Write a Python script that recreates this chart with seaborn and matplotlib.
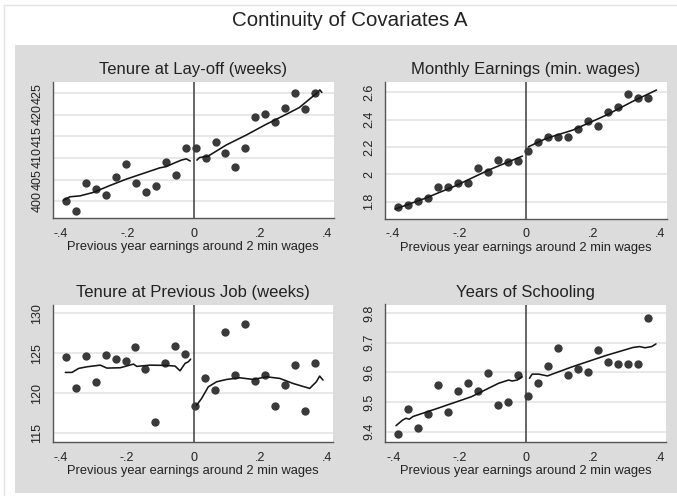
import numpy as np
import pandas as pd
import matplotlib.pyplot as plt
import seaborn as sns
from matplotlib.patches import Rectangle
from matplotlib.lines import Line2D

# bin midpoints (previous year earnings around 2 min wages)
bin_x = [-0.385, -0.355, -0.325, -0.295, -0.265, -0.235, -0.205, -0.175, -0.145,
         -0.115, -0.085, -0.055, -0.025, 0.005, 0.035, 0.065, 0.095, 0.125,
         0.155, 0.185, 0.215, 0.245, 0.275, 0.305, 0.335, 0.365]

# Tenure at lay-off (weeks)
tenure_layoff = [400.0, 397.8, 404.1, 402.8, 401.3, 405.7, 408.7, 404.3, 402.0,
                 403.6, 409.1, 406.0, 412.3, 412.2, 409.9, 413.7, 411.1, 407.9,
                 412.2, 419.6, 420.1, 418.3, 421.7, 425.0, 421.3, 425.0]
layoff_fit_left_x = [-0.393, -0.373, -0.343, -0.303, -0.253, -0.203, -0.153, -0.103,
                     -0.083, -0.063, -0.038, -0.023, -0.016, -0.011]
layoff_fit_left_y = [400.2, 401.0, 401.2, 402.0, 403.6, 405.1, 406.4, 407.7,
                     408.0, 408.7, 409.5, 409.8, 409.5, 409.3]
layoff_fit_right_x = [0.009, 0.017, 0.042, 0.057, 0.097, 0.157, 0.217, 0.277,
                      0.317, 0.347, 0.372, 0.379, 0.385]
layoff_fit_right_y = [409.5, 410.1, 410.4, 411.1, 413.0, 415.3, 417.8, 420.1,
                      421.7, 423.6, 425.2, 425.8, 425.2]

# Monthly earnings (min. wages)
earnings = [1.761, 1.773, 1.802, 1.829, 1.910, 1.910, 1.937, 1.939, 2.049,
            2.017, 2.107, 2.090, 2.100, 2.171, 2.239, 2.276, 2.271, 2.271,
            2.329, 2.388, 2.354, 2.459, 2.490, 2.588, 2.556, 2.556]
earn_fit_left_x = [-0.394, -0.305, -0.214, -0.113, -0.012]
earn_fit_left_y = [1.746, 1.824, 1.915, 2.032, 2.134]
earn_fit_right_x = [0.006, 0.059, 0.139, 0.240, 0.321, 0.390]
earn_fit_right_y = [2.202, 2.263, 2.324, 2.434, 2.537, 2.617]

# Tenure at previous job (weeks)
tenure_prev = [124.58, 120.63, 124.63, 121.46, 124.75, 124.25, 124.08, 125.83, 123.0,
               116.46, 123.79, 125.88, 124.96, 118.38, 121.96, 120.42, 127.67, 122.33,
               128.71, 121.58, 122.33, 118.46, 121.08, 123.5, 117.75, 123.79]
prev_fit_left_x = [-0.386, -0.366, -0.346, -0.321, -0.281, -0.261, -0.221, -0.181,
                   -0.171, -0.131, -0.081, -0.056, -0.041, -0.026, -0.016, -0.009]
prev_fit_left_y = [122.63, 122.63, 123.13, 123.33, 123.54, 123.17, 123.21, 123.67,
                   123.38, 123.54, 123.50, 123.42, 122.83, 123.75, 123.96, 124.29]
prev_fit_right_x = [0.009, 0.024, 0.044, 0.069, 0.099, 0.139, 0.179, 0.219, 0.259,
                    0.299, 0.349, 0.369, 0.379, 0.389]
prev_fit_right_y = [118.54, 119.38, 120.83, 121.46, 121.75, 121.96, 121.75, 122.08,
                    121.88, 121.25, 120.63, 121.46, 122.17, 121.67]

# Years of schooling
schooling = [9.393, 9.475, 9.412, 9.460, 9.557, 9.465, 9.536, 9.564, 9.536,
             9.597, 9.489, 9.500, 9.591, 9.519, 9.565, 9.620, 9.681, 9.591,
             9.612, 9.601, 9.676, 9.634, 9.628, 9.629, 9.627, 9.782]
school_fit_left_x = [-0.392, -0.372, -0.362, -0.352, -0.341, -0.266, -0.165, -0.084,
                     -0.054, -0.043, -0.028, -0.013]
school_fit_left_y = [9.420, 9.439, 9.445, 9.442, 9.451, 9.479, 9.518, 9.563,
                     9.574, 9.571, 9.574, 9.585]
school_fit_right_x = [0.009, 0.017, 0.037, 0.063, 0.138, 0.239, 0.320, 0.340,
                      0.356, 0.376, 0.389]
school_fit_right_y = [9.580, 9.594, 9.594, 9.588, 9.619, 9.657, 9.684, 9.687,
                      9.683, 9.687, 9.696]

x_ticks = [-0.4, -0.2, 0, 0.2, 0.4]
x_tick_labels = ["-.4", "-.2", "0", ".2", ".4"]
x_title = "Previous year earnings around 2 min wages"

sns.set_style("white")
plt.rcParams["font.family"] = ["Liberation Sans", "DejaVu Sans"]

W, H = 677, 496
fig = plt.figure(figsize=(W / 100, H / 100), dpi=100)
fig.patch.set_facecolor("white")

# stata-like graph region
fig.patches.append(Rectangle((15 / W, 1 - 493 / H), 1 - 15 / W, (493 - 45) / H,
                             transform=fig.transFigure, facecolor="#dcdcdc",
                             edgecolor="none", zorder=-5))
fig.lines.append(Line2D([4 / W, 1], [1 - 5 / H, 1 - 5 / H], transform=fig.transFigure,
                        color="#e4e4e4", lw=1))
fig.lines.append(Line2D([4 / W, 4 / W], [0, 1 - 5 / H], transform=fig.transFigure,
                        color="#e4e4e4", lw=1))

fig.text(350 / W, 1 - 26 / H, "Continuity of Covariates A", ha="center",
         va="baseline", fontsize=14.8, color="#222222")


def box(l, t, r, b):
    return [l / W, 1 - b / H, (r - l) / W, (b - t) / H]


panels = [
    ("Tenure at Lay-off (weeks)", box(53, 81.7, 333.5, 218.3), tenure_layoff,
     (layoff_fit_left_x, layoff_fit_left_y), (layoff_fit_right_x, layoff_fit_right_y),
     [400, 405, 410, 415, 420, 425], (396.0, 427.7)),
    ("Monthly Earnings (min. wages)", box(385, 81.7, 666.5, 218.7), earnings,
     (earn_fit_left_x, earn_fit_left_y), (earn_fit_right_x, earn_fit_right_y),
     [1.8, 2.0, 2.2, 2.4, 2.6], (1.676, 2.678)),
    ("Tenure at Previous Job (weeks)", box(52.7, 305, 333.3, 442.3), tenure_prev,
     (prev_fit_left_x, prev_fit_left_y), (prev_fit_right_x, prev_fit_right_y),
     [115, 120, 125, 130], (113.9, 131.05)),
    ("Years of Schooling", box(385.3, 304.5, 666.3, 442), schooling,
     (school_fit_left_x, school_fit_left_y), (school_fit_right_x, school_fit_right_y),
     [9.4, 9.5, 9.6, 9.7, 9.8], (9.365, 9.829)),
]

ylabel_fmt = {0: "{:.0f}", 1: "{:g}", 2: "{:.0f}", 3: "{:.1f}"}

for k, (title, pos, yvals, fit_l, fit_r, yticks, ylim) in enumerate(panels):
    ax = fig.add_axes(pos)
    ax.set_facecolor("white")
    for yt in yticks:
        ax.axhline(yt, color="#e2e2e2", lw=1.1, zorder=0)
    ax.axvline(0, color="#5a5a5a", lw=1.3, zorder=1)

    df = pd.DataFrame({"x": bin_x, "y": yvals})
    sns.scatterplot(data=df, x="x", y="y", ax=ax, s=36, color="#3a3a3a",
                    linewidth=0, zorder=3)
    for fx, fy in (fit_l, fit_r):
        fd = pd.DataFrame({"x": fx, "y": fy})
        sns.lineplot(data=fd, x="x", y="y", ax=ax, color="#151515", lw=1.15,
                     sort=False, estimator=None, zorder=4)

    ax.set_xlim(-0.424, 0.42)
    ax.set_ylim(*ylim)
    ax.set_xticks(x_ticks)
    ax.set_xticklabels(x_tick_labels)
    ax.set_yticks(yticks)
    fmt = ylabel_fmt[k]
    if k == 1:
        ax.set_yticklabels(["1.8", "2", "2.2", "2.4", "2.6"])
    else:
        ax.set_yticklabels([fmt.format(v) for v in yticks])
    ax.tick_params(axis="both", direction="out", length=5, width=1,
                   color="#555555", labelsize=9, labelcolor="#222222", pad=2)
    ax.tick_params(axis="y", labelrotation=90)
    for lab in ax.get_yticklabels():
        lab.set_va("center")

    for side in ("top", "right"):
        ax.spines[side].set_visible(False)
    for side in ("left", "bottom"):
        ax.spines[side].set_color("#555555")
        ax.spines[side].set_linewidth(1)

    ax.set_title(title, fontsize=12, color="#222222", pad=5.5)
    ax.set_xlabel(x_title, fontsize=9.3, color="#222222", labelpad=1)
    ax.set_ylabel("")

fig.savefig("out.png", dpi=100)
